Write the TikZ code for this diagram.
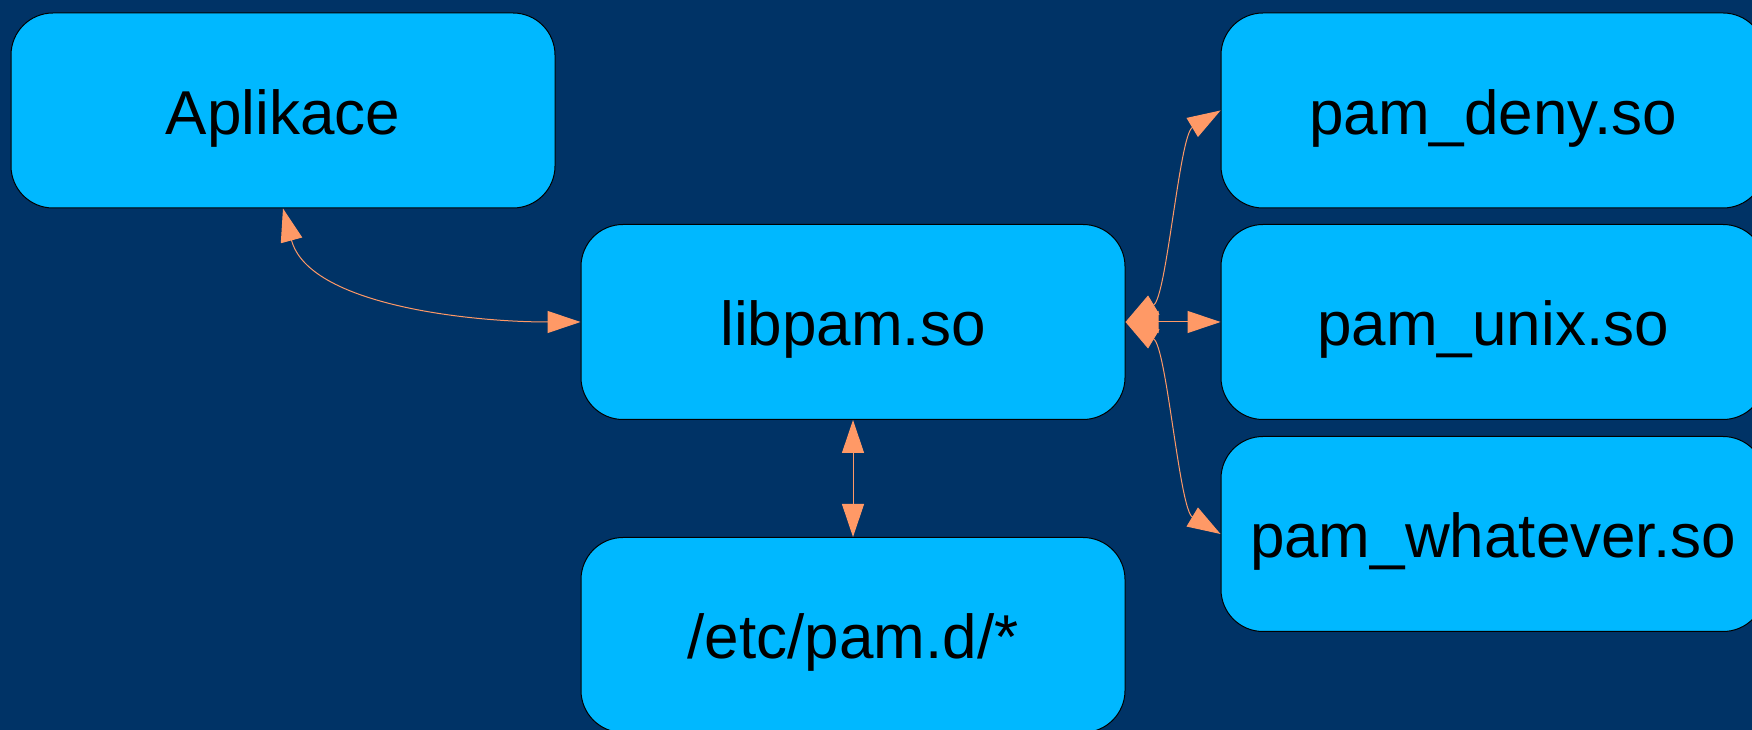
\documentclass[tikz,border=0pt]{standalone}
\usepackage{fontspec}
\setmainfont{Liberation Sans}
\usetikzlibrary{arrows.meta}
\definecolor{bgnavy}{RGB}{0,51,102}
\definecolor{boxblue}{RGB}{0,184,255}
\definecolor{linksalmon}{RGB}{255,153,102}
\begin{document}
\begin{tikzpicture}[x=1pt,y=1pt,
  module/.style={draw=black, line width=1pt, fill=boxblue, rounded corners=42pt,
    minimum width=544pt, minimum height=195pt, inner sep=0pt,
    text height=48pt, text depth=0pt, font=\fontsize{62}{70}\selectfont},
  link/.style={draw=linksalmon, line width=1pt,
    {Triangle[length=33pt,width=22pt]}-{Triangle[length=33pt,width=22pt]}}]
  \useasboundingbox (0,0) rectangle (1752,730);
  \fill[bgnavy] (0,0) rectangle (1752,730);
  \clip (0,0) rectangle (1752,730);

  % modules
  \node[module] (app)  at (283,619.5) {Aplikace};
  \node[module] (lib)  at (853,408)   {libpam.so};
  \node[module] (conf) at (853,95)    {/etc/pam.d/*};
  \node[module] (deny) at (1493,619.5){pam\_deny.so};
  \node[module] (unix) at (1493,408)  {pam\_unix.so};
  \node[module] (any)  at (1493,196)  {pam\_whatever.so};

  % bidirectional links
  \draw[link] (app.south) .. controls +(-75:100) and +(180:110) .. (lib.west);
  \draw[link] (lib.east) .. controls +(31:48) and +(211:48) .. (deny.west);
  \draw[link] (lib.east) -- (unix.west);
  \draw[link] (lib.east) .. controls +(-31:48) and +(149:48) .. (any.west);
  \draw[link] (lib.south) -- (conf.north);
\end{tikzpicture}
\end{document}
